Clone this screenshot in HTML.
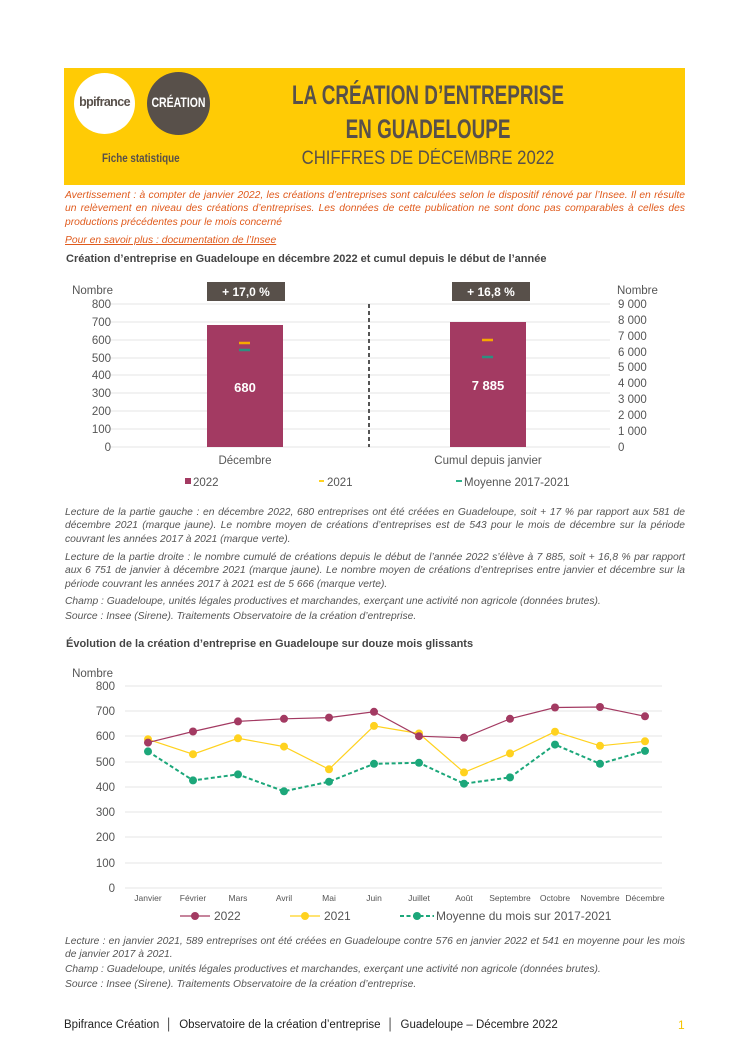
<!DOCTYPE html>
<html><head><meta charset="utf-8"><style>
body{margin:0;background:#fff;font-family:"Liberation Sans",sans-serif;}
#p{position:relative;width:750px;height:1061px;overflow:hidden;}
.a{position:absolute;}
.t{position:absolute;left:65px;width:620px;font-size:10.3px;line-height:13.3px;font-style:italic;color:#555;text-align:justify;}
.h{position:absolute;left:66px;font-size:11px;font-weight:bold;color:#444;}
.c{white-space:nowrap;transform-origin:center;}
</style></head><body><div id="p">
<div class="a" style="left:64px;top:68px;width:621px;height:117px;background:#ffcb05"></div>
<div class="a" style="left:74px;top:73px;width:61px;height:61px;border-radius:50%;background:#fff"></div>
<div class="a" style="left:147px;top:72px;width:63px;height:63px;border-radius:50%;background:#58504a"></div>
<div class="a" style="left:74px;top:95px;width:61px;text-align:center;font-size:12.5px;font-weight:bold;color:#58504a;letter-spacing:-0.6px">bpifrance</div>
<div class="a" style="left:137px;top:94px;width:83px;text-align:center;font-size:14px;font-weight:bold;color:#fff;transform:scaleX(0.75)">CRÉATION</div>
<div class="a" style="left:102px;top:151px;font-size:12px;font-weight:bold;color:#58504a;transform:scaleX(0.82);transform-origin:left">Fiche statistique</div>
<div class="a c" style="left:228px;width:400px;top:80px;text-align:center;font-size:27px;font-weight:bold;color:#58504a;transform:scaleX(0.7)">LA CRÉATION D’ENTREPRISE</div>
<div class="a c" style="left:228px;width:400px;top:114px;text-align:center;font-size:27px;font-weight:bold;color:#58504a;transform:scaleX(0.7)">EN GUADELOUPE</div>
<div class="a c" style="left:228px;width:400px;top:148px;text-align:center;font-size:19px;color:#58504a;transform:scaleX(0.88)">CHIFFRES DE DÉCEMBRE 2022</div>

<div class="t" style="top:189px;color:#e05a1c">Avertissement : à compter de janvier 2022, les créations d’entreprises sont calculées selon le dispositif rénové par l’Insee. Il en résulte un relèvement en niveau des créations d’entreprises. Les données de cette publication ne sont donc pas comparables à celles des productions précédentes pour le mois concerné</div>
<div class="t" style="top:234px;color:#e05a1c;text-decoration:underline">Pour en savoir plus : documentation de l’Insee</div>
<div class="h" style="top:253px">Création d’entreprise en Guadeloupe en décembre 2022 et cumul depuis le début de l’année</div>

<svg class="a" style="left:0;top:0" width="750" height="1061" font-family="Liberation Sans, sans-serif">
<g stroke="#e6e6e6" stroke-width="1">
<line x1="110" x2="610" y1="304" y2="304"/><line x1="110" x2="610" y1="322" y2="322"/><line x1="110" x2="610" y1="340" y2="340"/><line x1="110" x2="610" y1="358" y2="358"/><line x1="110" x2="610" y1="375" y2="375"/><line x1="110" x2="610" y1="393" y2="393"/><line x1="110" x2="610" y1="411" y2="411"/><line x1="110" x2="610" y1="429" y2="429"/><line x1="110" x2="610" y1="447" y2="447"/>
</g>
<g font-size="11.5" fill="#555" text-anchor="end">
<text x="111" y="308">800</text><text x="111" y="326">700</text><text x="111" y="344">600</text><text x="111" y="362">500</text><text x="111" y="379">400</text><text x="111" y="397">300</text><text x="111" y="415">200</text><text x="111" y="433">100</text><text x="111" y="451">0</text>
<text x="113" y="294">Nombre</text>
</g>
<g font-size="11.5" fill="#555">
<text x="618" y="308">9 000</text><text x="618" y="324">8 000</text><text x="618" y="340">7 000</text><text x="618" y="356">6 000</text><text x="618" y="371">5 000</text><text x="618" y="387">4 000</text><text x="618" y="403">3 000</text><text x="618" y="419">2 000</text><text x="618" y="435">1 000</text><text x="618" y="451">0</text>
<text x="617" y="294">Nombre</text>
</g>
<rect x="207" y="282" width="78" height="19" fill="#58504a"/><text x="246" y="296" text-anchor="middle" font-size="12" font-weight="bold" fill="#fff">+ 17,0 %</text>
<rect x="452" y="282" width="78" height="19" fill="#58504a"/><text x="491" y="296" text-anchor="middle" font-size="12" font-weight="bold" fill="#fff">+ 16,8 %</text>
<line x1="369" x2="369" y1="304" y2="447" stroke="#555" stroke-width="2" stroke-dasharray="4,3"/>
<rect x="207" y="325" width="76" height="122" fill="#a33a62"/>
<rect x="450" y="322" width="76" height="125" fill="#a33a62"/>
<text x="245" y="392" text-anchor="middle" font-size="13" font-weight="bold" fill="#fff">680</text>
<text x="488" y="390" text-anchor="middle" font-size="13" font-weight="bold" fill="#fff">7 885</text>
<line x1="239" x2="250" y1="343" y2="343" stroke="#f7a800" stroke-width="2.5"/>
<line x1="239" x2="250" y1="350" y2="350" stroke="#2d8f80" stroke-width="2.5"/>
<line x1="482" x2="493" y1="340" y2="340" stroke="#f7a800" stroke-width="2.5"/>
<line x1="482" x2="493" y1="357" y2="357" stroke="#2d8f80" stroke-width="2.5"/>
<g font-size="11.5" fill="#555" text-anchor="middle"><text x="245" y="464">Décembre</text><text x="488" y="464">Cumul depuis janvier</text></g>
<g font-size="11.5" fill="#555">
<rect x="185" y="478" width="6" height="6" fill="#a33a62"/><text x="193" y="486">2022</text>
<line x1="319" x2="324" y1="481" y2="481" stroke="#ffd21f" stroke-width="2"/><text x="327" y="486">2021</text>
<line x1="456" x2="462" y1="481" y2="481" stroke="#2db38a" stroke-width="2"/><text x="464" y="486">Moyenne 2017-2021</text>
</g>

<g stroke="#e6e6e6" stroke-width="1">
<line x1="125" x2="662" y1="686" y2="686"/><line x1="125" x2="662" y1="711" y2="711"/><line x1="125" x2="662" y1="736" y2="736"/><line x1="125" x2="662" y1="762" y2="762"/><line x1="125" x2="662" y1="787" y2="787"/><line x1="125" x2="662" y1="812" y2="812"/><line x1="125" x2="662" y1="837" y2="837"/><line x1="125" x2="662" y1="863" y2="863"/><line x1="125" x2="662" y1="888" y2="888"/>
</g>
<g font-size="11.5" fill="#555" text-anchor="end">
<text x="115" y="690">800</text><text x="115" y="715">700</text><text x="115" y="740">600</text><text x="115" y="766">500</text><text x="115" y="791">400</text><text x="115" y="816">300</text><text x="115" y="841">200</text><text x="115" y="867">100</text><text x="115" y="892">0</text>
<text x="113" y="677">Nombre</text>
</g>
<g font-size="8.5" fill="#555" text-anchor="middle">
<text x="148" y="901">Janvier</text><text x="193" y="901">Février</text><text x="238" y="901">Mars</text><text x="284" y="901">Avril</text><text x="329" y="901">Mai</text><text x="374" y="901">Juin</text><text x="419" y="901">Juillet</text><text x="464" y="901">Août</text><text x="510" y="901">Septembre</text><text x="555" y="901">Octobre</text><text x="600" y="901">Novembre</text><text x="645" y="901">Décembre</text>
</g>
<polyline fill="none" stroke="#ffd21f" stroke-width="1.2" points="148,739.3 193,754.2 238,738.3 284,746.6 329,769.3 374,725.9 419,733.5 464,772.4 510,753.4 555,731.7 600,745.8 645,741.3"/>
<g fill="#ffd21f"><circle cx="148" cy="739.3" r="4"/><circle cx="193" cy="754.2" r="4"/><circle cx="238" cy="738.3" r="4"/><circle cx="284" cy="746.6" r="4"/><circle cx="329" cy="769.3" r="4"/><circle cx="374" cy="725.9" r="4"/><circle cx="419" cy="733.5" r="4"/><circle cx="464" cy="772.4" r="4"/><circle cx="510" cy="753.4" r="4"/><circle cx="555" cy="731.7" r="4"/><circle cx="600" cy="745.8" r="4"/><circle cx="645" cy="741.3" r="4"/></g>
<polyline fill="none" stroke="#a33a62" stroke-width="1.2" points="148,742.6 193,731.5 238,721.4 284,718.8 329,717.6 374,711.8 419,736.2 464,737.8 510,718.8 555,707.5 600,707 645,716.3"/>
<g fill="#a33a62"><circle cx="148" cy="742.6" r="4"/><circle cx="193" cy="731.5" r="4"/><circle cx="238" cy="721.4" r="4"/><circle cx="284" cy="718.8" r="4"/><circle cx="329" cy="717.6" r="4"/><circle cx="374" cy="711.8" r="4"/><circle cx="419" cy="736.2" r="4"/><circle cx="464" cy="737.8" r="4"/><circle cx="510" cy="718.8" r="4"/><circle cx="555" cy="707.5" r="4"/><circle cx="600" cy="707" r="4"/><circle cx="645" cy="716.3" r="4"/></g>
<polyline fill="none" stroke="#1ca77a" stroke-width="2" stroke-dasharray="4,2.5" points="148,751.4 193,780.4 238,774.4 284,791.3 329,781.7 374,763.8 419,762.8 464,783.7 510,777.4 555,744.6 600,763.8 645,750.9"/>
<g fill="#1ca77a"><circle cx="148" cy="751.4" r="4"/><circle cx="193" cy="780.4" r="4"/><circle cx="238" cy="774.4" r="4"/><circle cx="284" cy="791.3" r="4"/><circle cx="329" cy="781.7" r="4"/><circle cx="374" cy="763.8" r="4"/><circle cx="419" cy="762.8" r="4"/><circle cx="464" cy="783.7" r="4"/><circle cx="510" cy="777.4" r="4"/><circle cx="555" cy="744.6" r="4"/><circle cx="600" cy="763.8" r="4"/><circle cx="645" cy="750.9" r="4"/></g>
<g font-size="12" fill="#555">
<line x1="180" x2="210" y1="916" y2="916" stroke="#a33a62" stroke-width="1.2"/><circle cx="195" cy="916" r="4" fill="#a33a62"/><text x="214" y="920">2022</text>
<line x1="290" x2="320" y1="916" y2="916" stroke="#ffd21f" stroke-width="1.2"/><circle cx="305" cy="916" r="4" fill="#ffd21f"/><text x="324" y="920">2021</text>
<line x1="400" x2="434" y1="916" y2="916" stroke="#1ca77a" stroke-width="2" stroke-dasharray="4,2.5"/><circle cx="417" cy="916" r="4" fill="#1ca77a"/><text x="436" y="920">Moyenne du mois sur 2017-2021</text>
</g>
</svg>

<div class="t" style="top:506px">Lecture de la partie gauche : en décembre 2022, 680 entreprises ont été créées en Guadeloupe, soit + 17 % par rapport aux 581 de décembre 2021 (marque jaune). Le nombre moyen de créations d’entreprises est de 543 pour le mois de décembre sur la période couvrant les années 2017 à 2021 (marque verte).</div>
<div class="t" style="top:551px">Lecture de la partie droite : le nombre cumulé de créations depuis le début de l’année 2022 s’élève à 7 885, soit + 16,8 % par rapport aux 6 751 de janvier à décembre 2021 (marque jaune). Le nombre moyen de créations d’entreprises entre janvier et décembre sur la période couvrant les années 2017 à 2021 est de 5 666 (marque verte).</div>
<div class="t" style="top:595px">Champ : Guadeloupe, unités légales productives et marchandes, exerçant une activité non agricole (données brutes).</div>
<div class="t" style="top:610px">Source : Insee (Sirene). Traitements Observatoire de la création d’entreprise.</div>
<div class="h" style="top:638px">Évolution de la création d’entreprise en Guadeloupe sur douze mois glissants</div>

<div class="t" style="top:935px">Lecture : en janvier 2021, 589 entreprises ont été créées en Guadeloupe contre 576 en janvier 2022 et 541 en moyenne pour les mois de janvier 2017 à 2021.</div>
<div class="t" style="top:963px">Champ : Guadeloupe, unités légales productives et marchandes, exerçant une activité non agricole (données brutes).</div>
<div class="t" style="top:978px">Source : Insee (Sirene). Traitements Observatoire de la création d’entreprise.</div>

<div class="a" style="left:64px;top:1019px;font-size:11.5px;color:#222;white-space:nowrap">Bpifrance Création &nbsp;│&nbsp; Observatoire de la création d’entreprise &nbsp;│&nbsp; Guadeloupe – Décembre 2022</div>
<div class="a" style="left:678px;top:1018px;font-size:12px;color:#f5c400">1</div>
</div></body></html>
